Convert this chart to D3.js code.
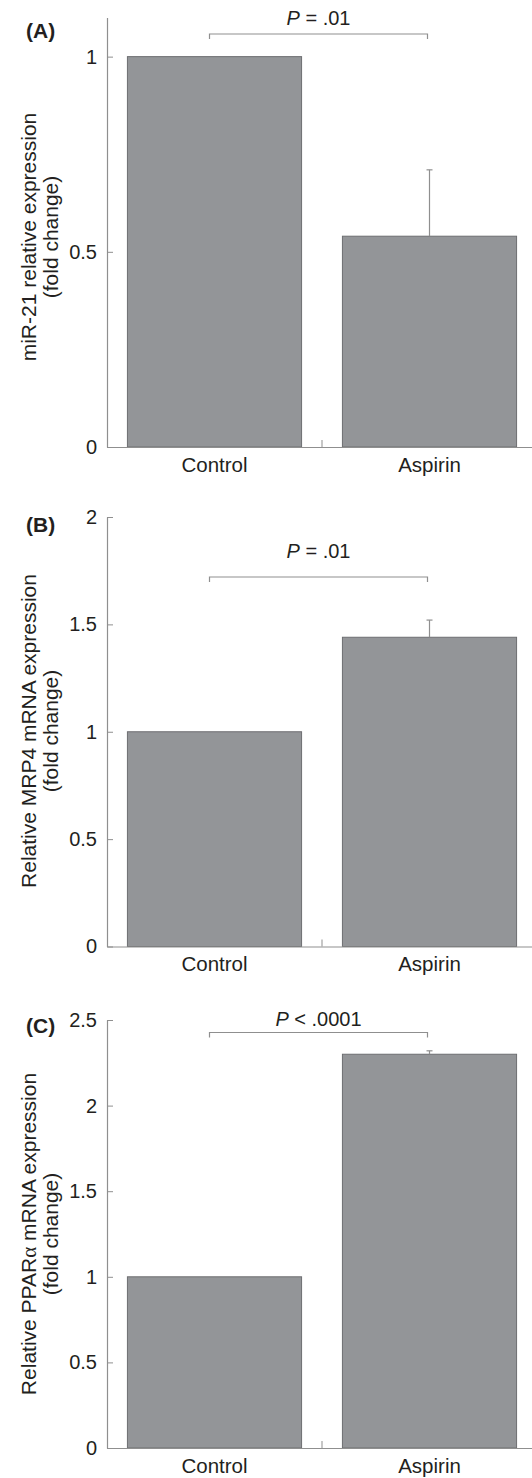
<!DOCTYPE html>
<html>
<head>
<meta charset="utf-8">
<script src="https://cdn.jsdelivr.net/npm/d3@7"></script>
<style>
  body { margin: 0; background: #fff; }
  text { font-family: "Liberation Sans", Arial, sans-serif; fill: #231f20; }
</style>
</head>
<body>
<svg id="chart" width="532" height="1478"></svg>
<script>
// ---- data ----
const categories = ["Control", "Aspirin"];
const panelLetters = ["(A)", "(B)", "(C)"];

const mir21Means = [1, 0.54];
const mir21Errors = [0, 0.17];
const mrp4Means = [1, 1.44];
const mrp4Errors = [0, 0.08];
const pparMeans = [1, 2.30];
const pparErrors = [0, 0.02];

const yMaxima = [1.1, 2, 2.5];
const yTicksA = [0, 0.5, 1];
const yTicksB = [0, 0.5, 1, 1.5, 2];
const yTicksC = [0, 0.5, 1, 1.5, 2, 2.5];

const yTitleGenes = ["miR-21 relative expression", "Relative MRP4 mRNA expression", "Relative PPAR"];
const yTitleTail = ["", "", " mRNA expression"];
const yTitleLine2 = "(fold change)";
const pRelations = ["=", "=", "<"];
const pValues = [".01", ".01", ".0001"];

// ---- layout ----
const layout = [
  { top: 17.6, bottom: 447,   pY: 25,   bracketY: 34,   letterY: 38,   titleCenter: 237 },
  { top: 517,  bottom: 946.5, pY: 558,  bracketY: 577,  letterY: 532,  titleCenter: 731 },
  { top: 1020, bottom: 1448,  pY: 1026, bracketY: 1032.5, letterY: 1033, titleCenter: 1234 }
];
const xLeft = 107, xRight = 537;
const axisColor = "#8f8f8f";
const barFill = "#939598";
const barStroke = "#6d6e71";

const svg = d3.select("#chart");

function drawPanel(i, means, errors, ticks) {
  const L = layout[i];
  const g = svg.append("g");

  const x = d3.scaleBand().domain(categories).range([xLeft, xRight])
    .paddingInner(0.19).paddingOuter(0.095);
  const y = d3.scaleLinear().domain([0, yMaxima[i]]).range([L.bottom, L.top]);
  const bw = x.bandwidth();

  // bars
  g.selectAll("rect.bar").data(categories).join("rect")
    .attr("class", "bar")
    .attr("x", d => x(d))
    .attr("y", (d, j) => y(means[j]))
    .attr("width", bw)
    .attr("height", (d, j) => y(0) - y(means[j]))
    .attr("fill", barFill)
    .attr("stroke", barStroke)
    .attr("stroke-width", 1);

  // upper error whiskers
  categories.forEach((c, j) => {
    if (errors[j] <= 0) return;
    const cx = x(c) + bw / 2;
    g.append("line").attr("x1", cx).attr("x2", cx)
      .attr("y1", y(means[j])).attr("y2", y(means[j] + errors[j]))
      .attr("stroke", axisColor).attr("stroke-width", 1.2);
    g.append("line").attr("x1", cx - 3).attr("x2", cx + 3)
      .attr("y1", y(means[j] + errors[j])).attr("y2", y(means[j] + errors[j]))
      .attr("stroke", axisColor).attr("stroke-width", 1.2);
  });

  // y axis
  const yAxis = g.append("g").attr("transform", `translate(${xLeft},0)`)
    .call(d3.axisLeft(y).tickValues(ticks).tickSizeInner(-6).tickSizeOuter(0)
      .tickPadding(10).tickFormat(d3.format("~g")));
  yAxis.selectAll("text").style("font-size", "20px").attr("fill", "#231f20");

  // x axis
  const xAxis = g.append("g").attr("transform", `translate(0,${L.bottom})`)
    .call(d3.axisBottom(x).tickSize(0).tickPadding(10));
  xAxis.selectAll("text").style("font-size", "20.5px").attr("fill", "#231f20");
  const boundary = x(categories[1]) - x.step() * x.paddingInner() / 2;
  g.append("line").attr("x1", boundary).attr("x2", boundary)
    .attr("y1", L.bottom).attr("y2", L.bottom - 7)
    .attr("stroke", axisColor);

  [yAxis, xAxis].forEach(a => {
    a.select(".domain").attr("stroke", axisColor).attr("stroke-width", 1.2);
    a.selectAll(".tick line").attr("stroke", axisColor);
    a.attr("font-family", null);
  });

  // significance bracket
  const bx0 = x(categories[0]) + bw / 2 - 5;
  const bx1 = x(categories[1]) + bw / 2 - 2;
  g.append("path")
    .attr("d", `M${bx0},${L.bracketY + 5}V${L.bracketY}H${bx1}V${L.bracketY + 5}`)
    .attr("fill", "none").attr("stroke", axisColor).attr("stroke-width", 1.2);
  const pt = g.append("text").attr("x", (bx0 + bx1) / 2).attr("y", L.pY)
    .attr("text-anchor", "middle").style("font-size", "20px");
  pt.append("tspan").attr("font-style", "italic").text("P");
  pt.append("tspan").text(` ${pRelations[i]} ${pValues[i]}`);

  // panel letter
  g.append("text").attr("x", 26).attr("y", L.letterY)
    .style("font-size", "21px").style("font-weight", "bold")
    .text(panelLetters[i]);

  // y title (two lines)
  const t1 = g.append("text")
    .attr("transform", `translate(36,${L.titleCenter}) rotate(-90)`)
    .attr("text-anchor", "middle").style("font-size", "21px");
  t1.append("tspan").text(yTitleGenes[i]);
  if (yTitleTail[i]) {
    t1.append("tspan").style("font-family", "'Liberation Serif', serif").text("\u03b1");
    t1.append("tspan").text(yTitleTail[i]);
  }
  g.append("text")
    .attr("transform", `translate(58,${L.titleCenter}) rotate(-90)`)
    .attr("text-anchor", "middle").style("font-size", "21px")
    .text(yTitleLine2);
}

drawPanel(0, mir21Means, mir21Errors, yTicksA);
drawPanel(1, mrp4Means, mrp4Errors, yTicksB);
drawPanel(2, pparMeans, pparErrors, yTicksC);
</script>
</body>
</html>
